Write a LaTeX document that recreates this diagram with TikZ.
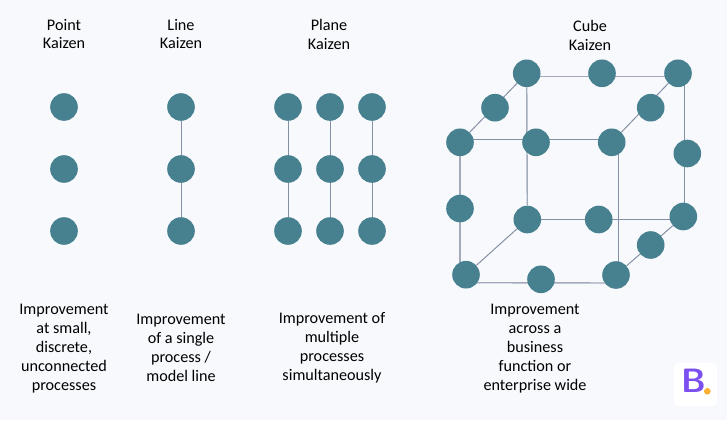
\documentclass[tikz,border=0pt]{standalone}
\usepackage{fontspec}
\setmainfont{Carlito}
\usetikzlibrary{backgrounds,calc}
\definecolor{dotteal}{HTML}{47808F}
\definecolor{linkgrey}{HTML}{8490A3}
\definecolor{softgrey}{HTML}{A3ABBB}
\definecolor{pagetint}{HTML}{F7F9FD}
\definecolor{logopurple}{HTML}{7B4FF0}
\definecolor{logoorange}{HTML}{FBB034}
\tikzstyle{dot} = [circle, fill = dotteal, inner sep = 0pt, minimum size = 0.69cm]
\tikzstyle{link} = [draw = linkgrey, line width = 0.7pt]
\tikzstyle{softlink} = [draw = softgrey, line width = 1pt]
\tikzstyle{caption} = [align = center, font = \fontsize{11.5}{13.5}\selectfont, inner sep = 0pt]

\begin{document}
\begin{tikzpicture}[x = 0.025cm, y = -0.025cm]
            \useasboundingbox (0, 0) rectangle (727, 420);
            % point
            \node (p1) at (64, 107) [dot] {};
            \node (p2) at (64, 169) [dot] {};
            \node (p3) at (64, 231) [dot] {};
            % line
            \node (l1) at (181, 107) [dot] {};
            \node (l2) at (181, 169) [dot] {};
            \node (l3) at (181, 231) [dot] {};
            % plane
            \node (a1) at (288, 107) [dot] {};
            \node (a2) at (288, 169) [dot] {};
            \node (a3) at (288, 231) [dot] {};
            \node (b1) at (330, 107) [dot] {};
            \node (b2) at (330, 169) [dot] {};
            \node (b3) at (330, 231) [dot] {};
            \node (c1) at (372, 107) [dot] {};
            \node (c2) at (372, 169) [dot] {};
            \node (c3) at (372, 231) [dot] {};
            % cube
            \node (tl) at (526.7, 73.3) [dot] {};
            \node (tm) at (602, 73.3) [dot] {};
            \node (tr) at (678, 73.3) [dot] {};
            \node (ul) at (495, 107.7) [dot] {};
            \node (ur) at (650.7, 107.7) [dot] {};
            \node (ml) at (460, 142.3) [dot] {};
            \node (mc) at (536, 142.3) [dot] {};
            \node (mr) at (611.7, 142.3) [dot] {};
            \node (re) at (687.3, 153.5) [dot] {};
            \node (le) at (460, 208.5) [dot] {};
            \node (il) at (527.3, 219.5) [dot] {};
            \node (im) at (598.7, 219.5) [dot] {};
            \node (ir) at (683.3, 216.5) [dot] {};
            \node (lr) at (650.7, 245) [dot] {};
            \node (bl) at (466, 274.7) [dot] {};
            \node (bm) at (541, 279.3) [dot] {};
            \node (br) at (616, 275) [dot] {};
            % titles
            \node (t1) at (64, 34) [caption] {Point\\Kaizen};
            \node (t2) at (181, 34) [caption] {Line\\Kaizen};
            \node (t3) at (329, 34) [caption] {Plane\\Kaizen};
            \node (t4) at (590, 35) [caption] {Cube\\Kaizen};
            % captions
            \node (d1) at (64, 349) [caption] {Improvement\\at small,\\discrete,\\unconnected\\processes};
            \node (d2) at (181, 348) [caption] {Improvement\\of a single\\process /\\model line};
            \node (d3) at (332, 348) [caption] {Improvement of\\multiple\\processes\\simultaneously};
            \node (d4) at (535, 349) [caption] {Improvement\\across a\\business\\function or\\enterprise wide};
            % logo
            \node (logo) at (695.5, 384.5) [fill = white, rounded corners = 3pt, minimum size = 1.075cm] {};
            \node (logob) at (694, 381) [text = logopurple, font = \fontsize{24}{24}\sffamily\bfseries\selectfont, inner sep = 0pt] {B};
            \node (logodot) at (707.3, 391.3) [circle, fill = logoorange, inner sep = 0pt, minimum size = 0.165cm] {};
            \begin{scope}[on background layer]
                \fill [pagetint] (0, 0) rectangle (727, 420);
                \draw [link] (l1) -- (l2) -- (l3);
                \draw [link] (a1) -- (a3);
                \draw [link] (b1) -- (b3);
                \draw [link] (c1) -- (c3);
                \draw [softlink] ($(tl) + (0, 3.3)$) -- ($(tr) + (0, 3.3)$);
                \draw [link] (ml) -- (tl);
                \draw [link] (mr) -- (tr);
                \draw [link] ($(ml) + (0, -2.5)$) -- ($(mr) + (0, -2.5)$);
                \draw [softlink] (tl) -- (il);
                \draw [link] ($(tr) + (6.3, 0)$) -- ($(ir) + (1, 0)$);
                \draw [softlink] (ml) -- (bl -| ml);
                \draw [link] ($(mr) + (6.5, 0)$) -- ($(br) + (2.2, 0)$);
                \draw [link] (il) -- (il -| ir);
                \draw [softlink] ($(bl) + (0, 8)$) -- ($(br) + (0, 8)$);
                \draw [link] (bl) -- (il);
                \draw [link] (br) -- (ir);
            \end{scope}
        \end{tikzpicture}
\end{document}
